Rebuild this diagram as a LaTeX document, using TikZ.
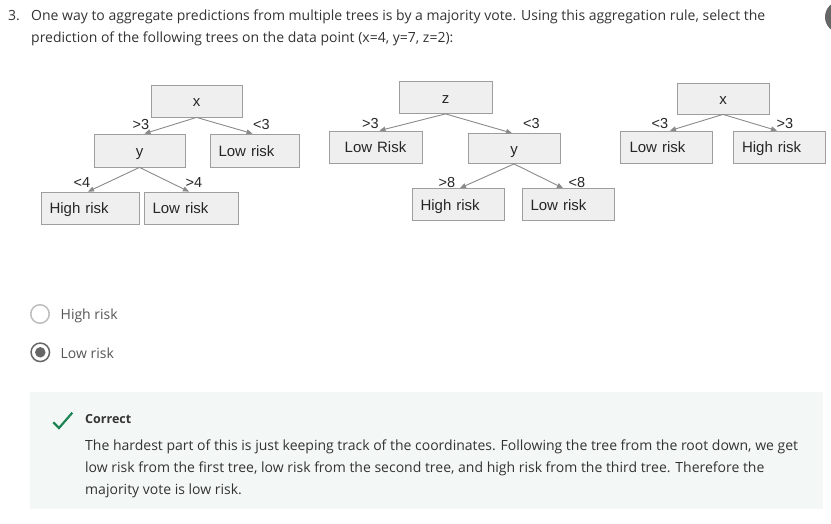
\documentclass[tikz,border=0pt]{standalone}
\usepackage{fontspec}
\setmainfont{Open Sans}
\newfontfamily\arialf{Liberation Sans}
\usetikzlibrary{arrows.meta}
\definecolor{boxfill}{HTML}{EFEFEF}
\definecolor{boxdraw}{HTML}{9E9E9E}
\definecolor{arrowc}{HTML}{8A8A8A}
\definecolor{txt}{HTML}{333333}
\definecolor{radiotxt}{HTML}{555555}
\definecolor{fbfill}{HTML}{F3F8F7}
\definecolor{okgreen}{HTML}{1F8354}
\definecolor{radioon}{HTML}{666666}
\definecolor{radiooff}{HTML}{BDBDBD}
\begin{document}
\begin{tikzpicture}[x=1pt,y=-1pt,
 tbox/.style={draw=boxdraw, fill=boxfill, line width=0.8pt, font=\arialf\fontsize{15}{18}\selectfont,
   inner xsep=8.5pt, inner ysep=0pt, text height=13pt, text depth=1.5pt, text=black!85},
 edge/.style={draw=arrowc, line width=0.9pt, -{Triangle[length=6pt,width=5pt]}},
 elabel/.style={font=\arialf\fontsize{14.5}{17}\selectfont, inner sep=0pt, text=black!85},
 qtext/.style={anchor=base west, inner sep=0pt, font=\fontsize{14}{22}\selectfont, text=txt},
 rtext/.style={anchor=west, inner sep=0pt, font=\fontsize{14}{22}\selectfont, text=radiotxt},
 ptext/.style={anchor=base west, inner sep=0pt, font=\fontsize{14}{22}\selectfont, text=txt},
]
\useasboundingbox (0,0) rectangle (831,523);
\clip (0,0) rectangle (831,523);

% corner circle
\fill[radioon] (841,17) circle (16);

% question
\node[qtext] (num) at (8,20) {3.};
\node[qtext] (q1) at (31,20) {One way to aggregate predictions from multiple trees is by a majority vote. Using this aggregation rule, select the};
\node[qtext] (q2) at (31,42) {prediction of the following trees on the data point (x=4, y=7, z=2):};

% tree 1
\node[tbox, text width=74pt, align=center, minimum height=32pt] (t1x) at (196.5,101) {x};
\node[tbox, text width=74pt, align=center, minimum height=33pt] (t1y) at (139.5,150.5) {y};
\node[tbox, text width=72pt, align=left, minimum height=33pt] (t1l) at (254.5,150.5) {Low risk};
\node[tbox, text width=81pt, align=left, minimum height=32pt] (t1hh) at (90,208) {High risk};
\node[tbox, text width=77pt, align=left, minimum height=32pt] (t1ll) at (191,208) {Low risk};
\draw[edge] (t1x.south) -- ([xshift=5pt]t1y.north);
\draw[edge] (t1x.south) -- ([xshift=-2pt]t1l.north);
\draw[edge] (t1y.south) -- ([xshift=-2pt]t1hh.north);
\draw[edge] (t1y.south) -- ([xshift=-2pt]t1ll.north);
\node[elabel] (l1a) at (141,125) {>3};
\node[elabel] (l1b) at (261.3,125) {<3};
\node[elabel] (l1c) at (82,182.5) {<4};
\node[elabel] (l1d) at (194,182.5) {>4};

% tree 2
\node[tbox, text width=76pt, align=center, minimum height=32pt] (t2z) at (445.5,97.5) {z};
\node[tbox, text width=76pt, align=center, minimum height=32pt] (t2l) at (375.5,147) {Low Risk};
\node[tbox, text width=75pt, align=center, minimum height=30pt] (t2y) at (514,148.5) {y};
\node[tbox, text width=75pt, align=left, minimum height=32pt] (t2h) at (458,204.5) {High risk};
\node[tbox, text width=75pt, align=left, minimum height=32pt] (t2r) at (568,204.5) {Low risk};
\draw[edge] (t2z.south) -- ([xshift=4pt]t2l.north);
\draw[edge] (t2z.south) -- ([xshift=-2pt]t2y.north);
\draw[edge] (t2y.south) -- ([xshift=2pt]t2h.north);
\draw[edge] (t2y.south) -- ([xshift=-5pt]t2r.north);
\node[elabel] (l2a) at (370.5,123.2) {>3};
\node[elabel] (l2b) at (531.3,123.2) {<3};
\node[elabel] (l2c) at (447,182.5) {>8};
\node[elabel] (l2d) at (577,182.5) {<8};

% tree 3
\node[tbox, text width=75pt, align=center, minimum height=31pt] (t3x) at (723,98.5) {x};
\node[tbox, text width=73pt, inner xsep=9.5pt, align=left, minimum height=32pt] (t3l) at (666,147) {Low risk};
\node[tbox, text width=74pt, inner xsep=9pt, align=left, minimum height=32pt] (t3h) at (779,147) {High risk};
\draw[edge] (t3x.south) -- ([xshift=4pt]t3l.north);
\draw[edge] (t3x.south) -- ([xshift=-2pt]t3h.north);
\node[elabel] (l3a) at (660,123.5) {<3};
\node[elabel] (l3b) at (785,123.5) {>3};

% radio options
\node[circle, draw=radiooff, line width=1.5pt, minimum size=18.5pt, inner sep=0pt] (r1) at (40,314) {};
\node[rtext] (o1) at (60.5,315.5) {High risk};
\node[circle, draw=radioon, line width=1.5pt, minimum size=18.5pt, inner sep=0pt] (r2) at (40.3,352.3) {};
\node[circle, fill=radioon, minimum size=10.5pt, inner sep=0pt] (r2dot) at (r2.center) {};
\node[rtext] (o2) at (60.5,353.5) {Low risk};

% feedback
\fill[fbfill] (30,392) rectangle (823,509);
\draw[okgreen, line width=2.2pt] (53.3,422.3) -- (59,428) -- (72.3,412.7);
\node[ptext, font=\bfseries\fontsize{12.5}{15}\selectfont] (corr) at (85,423.3) {Correct};
\node[ptext] (p1) at (85,450) {The hardest part of this is just keeping track of the coordinates. Following the tree from the root down, we get};
\node[ptext] (p2) at (85,472) {low risk from the first tree, low risk from the second tree, and high risk from the third tree. Therefore the};
\node[ptext] (p3) at (85,494) {majority vote is low risk.};
\end{tikzpicture}
\end{document}
